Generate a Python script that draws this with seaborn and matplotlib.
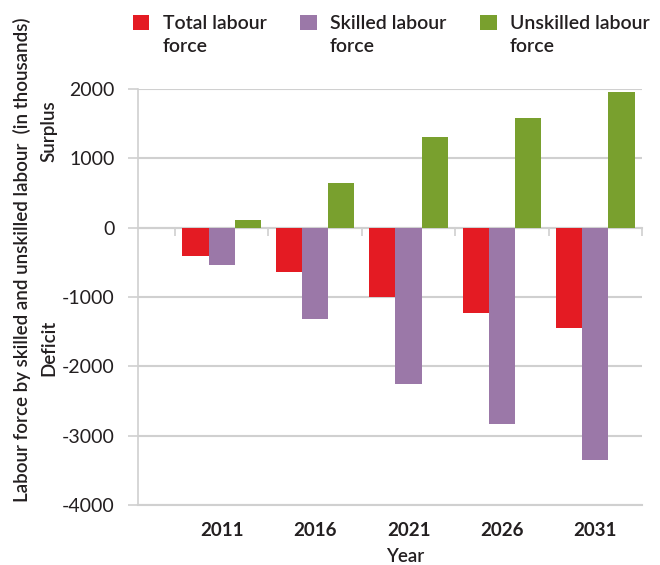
import numpy as np
import pandas as pd
import matplotlib
matplotlib.use("Agg")
import matplotlib.pyplot as plt
import seaborn as sns
from matplotlib.patches import Patch

# values (thousands)
YEARS = ["2011", "2016", "2021", "2026", "2031"]
TOTAL = [-410, -640, -1000, -1230, -1450]
SKILLED = [-540, -1320, -2250, -2830, -3350]
UNSKILLED = [115, 650, 1310, 1585, 1960]
SERIES = ["Total labour\nforce", "Skilled labour\nforce", "Unskilled labour\nforce"]
COLORS = ["#e41b23", "#9b78a8", "#79a02e"]
Y_TICKS = [2000, 1000, 0, -1000, -2000, -3000, -4000]

GRID = "#d0d0d0"
TEXT = "#231f20"
W, H = 660, 565


def build_frame():
    rows = []
    for name, vals in zip(SERIES, [TOTAL, SKILLED, UNSKILLED]):
        for yr, v in zip(YEARS, vals):
            rows.append({"year": yr, "value": v, "series": name})
    return pd.DataFrame(rows)


def main():
    sns.set_style("white")
    plt.rcParams["font.family"] = ["Lato", "DejaVu Sans"]
    plt.rcParams["axes.unicode_minus"] = False

    df = build_frame()
    fig = plt.figure(figsize=(W / 100, H / 100), dpi=100)
    ax = fig.add_axes([138 / W, 1 - 505 / H, (642 - 138) / W, (505 - 89) / H])

    sns.barplot(
        data=df, x="year", y="value", hue="series", hue_order=SERIES,
        palette=COLORS, saturation=1, width=0.84, linewidth=0,
        legend=False, ax=ax,
    )

    ymin, ymax = -4000, 2000
    ax.set_ylim(ymin, ymax)
    ax.set_xlim(-0.5 - 37 / 93.4, len(YEARS) - 0.5)
    ax.set_yticks(Y_TICKS)
    ax.set_axisbelow(True)
    ax.yaxis.grid(True, color=GRID, lw=1.5)
    ax.tick_params(axis="y", left=True, length=7, width=1.2, color=GRID,
                   pad=10, labelsize=14, labelcolor=TEXT)
    ax.tick_params(axis="x", length=0, pad=12, labelsize=13.5, labelcolor=TEXT)
    for lab in ax.get_xticklabels():
        lab.set_fontweight("bold")
    for s in ["top", "right"]:
        ax.spines[s].set_visible(False)
    ax.spines["left"].set_color(GRID)
    ax.spines["left"].set_linewidth(1.2)
    ax.spines["bottom"].set_color(GRID)
    ax.spines["bottom"].set_linewidth(1.5)
    ax.set_xlabel("")
    ax.set_ylabel("")

    # zero line with category boundary ticks
    sec = ax.secondary_xaxis((0 - ymin) / (ymax - ymin))
    sec.set_alignment("bottom")
    sec.set_xticks(np.arange(-0.5, len(YEARS), 1.0), labels=[])
    sec.tick_params(direction="out", length=6, width=1.2, color=GRID)
    sec.spines["bottom"].set_color(GRID)
    sec.spines["bottom"].set_linewidth(1.5)

    # axis texts
    fig.text(22 / W, 1 - 260 / H,
             "Labour force by skilled and unskilled labour  (in thousands)",
             rotation=90, ha="center", va="center", fontsize=13.5,
             fontweight="semibold", color=TEXT)
    fig.text(49 / W, 1 - 131 / H, "Surplus", rotation=90, ha="center",
             va="center", fontsize=13.5, fontweight="semibold", color=TEXT)
    fig.text(49 / W, 1 - 348 / H, "Deficit", rotation=90, ha="center",
             va="center", fontsize=13.5, fontweight="semibold", color=TEXT)
    fig.text(405 / W, 1 - 556 / H, "Year", ha="center", va="center",
             fontsize=13.5, fontweight="semibold", color=TEXT)

    handles = [Patch(facecolor=c, edgecolor="none") for c in COLORS]
    leg = fig.legend(
        handles, SERIES, loc="upper left", bbox_to_anchor=(133 / W, 1 - 15 / H),
        ncol=3, frameon=False, borderpad=0, borderaxespad=0,
        handlelength=0.84, handleheight=0.84, handletextpad=0.68,
        columnspacing=1.75,
        prop={"size": 14, "weight": "semibold"},
    )
    for t in leg.get_texts():
        t.set_color(TEXT)
        t.set_linespacing(1.42)
    # put each square level with the first line of its label
    for col in leg._legend_handle_box.get_children():
        for item in col.get_children():
            item.align = "top"

    fig.savefig("out.png", dpi=100)
    plt.close(fig)


if __name__ == "__main__":
    main()
